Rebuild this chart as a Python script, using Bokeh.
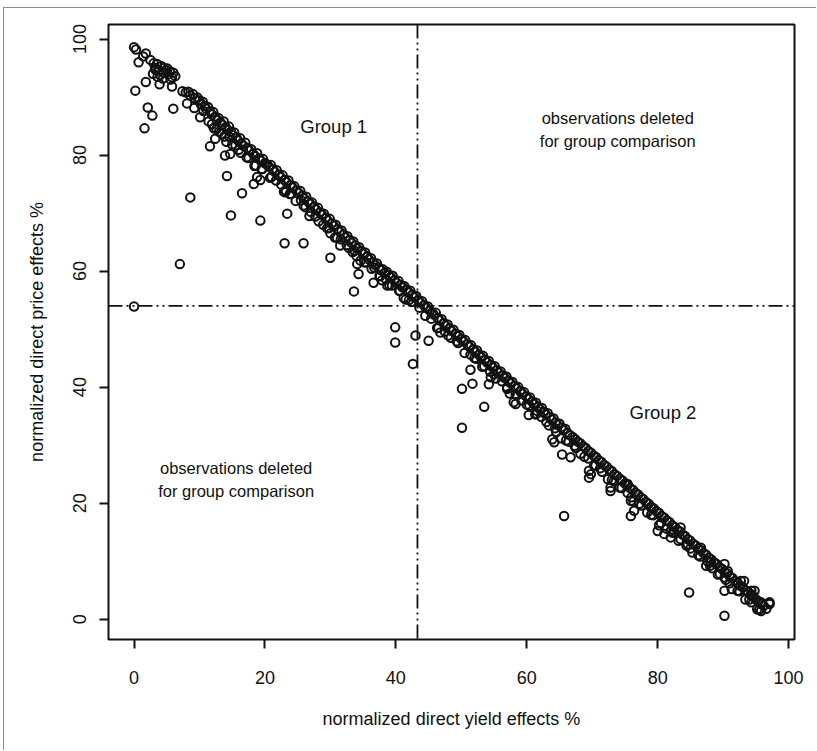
from bokeh.plotting import figure
from bokeh.models import Range1d, FixedTicker, Span, Label, InlineStyleSheet
from bokeh.embed import file_html
from bokeh.resources import INLINE

# ---------------- data ----------------
top_yield = [0.0, 0.3, 1.8, 1.4, 0.7, 2.5, 3.0, 3.5, 3.3, 3.8, 4.2, 4.5, 4.0, 4.9,
             5.2, 5.5, 5.8, 6.0, 6.3, 3.6, 2.9, 4.6, 5.1, 4.4, 5.6, 3.2]
top_price = [98.6, 98.2, 97.5, 97.0, 96.0, 96.4, 95.8, 95.7, 95.0, 94.6, 95.3, 94.2, 93.8, 94.6,
             93.9, 94.4, 93.4, 94.2, 93.6, 93.5, 94.0, 95.0, 94.9, 93.2, 93.0, 94.8]

band1_yield = [7.4, 7.9, 8.3, 8.6, 9.0, 9.3, 9.7, 10.0, 10.2, 10.5, 10.8, 11.0, 11.3, 11.6,
               11.9, 12.1, 12.4, 12.7, 12.9, 13.2, 13.5, 13.7, 14.0, 14.3, 14.5, 14.8, 15.1,
               15.3, 15.6, 15.9, 16.2, 16.4, 16.7, 17.0, 17.3, 17.6, 17.9, 18.2, 18.5, 18.8,
               19.1, 19.4, 19.7, 20.0, 12.6, 13.8, 15.0, 16.0, 17.2, 18.6, 11.9, 13.0, 19.5,
               10.6, 14.6]
band1_price = [91.0, 90.8, 90.9, 90.3, 90.5, 89.8, 89.9, 89.4, 88.8, 89.2, 88.5, 88.0, 88.3, 87.5,
               87.0, 87.4, 86.6, 86.0, 86.4, 85.6, 85.2, 85.8, 84.8, 84.3, 84.9, 84.0, 83.4,
               83.9, 83.0, 82.5, 82.9, 82.0, 81.6, 82.1, 81.2, 80.8, 81.0, 80.2, 79.8, 80.3,
               79.4, 79.0, 79.3, 78.6, 84.5, 83.2, 81.8, 80.9, 79.6, 78.2, 85.3, 84.0, 77.6,
               87.6, 83.1]

band2_yield = [20.3, 20.6, 20.9, 21.2, 21.5, 21.8, 22.1, 22.4, 22.7, 23.0, 23.3, 23.6, 23.9,
               24.2, 24.5, 24.8, 25.1, 25.4, 25.7, 26.0, 26.3, 26.6, 26.9, 27.2, 27.5, 27.8,
               28.1, 28.4, 28.7, 29.0, 29.3, 29.6, 29.9, 30.2, 30.5, 30.8, 31.1, 31.4, 31.7,
               32.0, 32.3, 32.6, 32.9, 33.2, 33.5, 33.8, 34.1, 34.4, 34.7, 35.0, 35.3, 35.6,
               35.9, 36.2, 36.5, 36.8, 37.1, 37.4, 37.7, 38.0, 38.3, 38.6, 38.9, 39.2, 39.5,
               39.8, 40.1, 40.4, 40.7, 41.0, 41.3, 41.6, 41.9, 42.2, 42.5, 42.8, 43.1, 43.4,
               43.7, 44.0, 44.3, 44.6, 44.9, 45.2, 45.5,
               21.0, 22.5, 24.0, 25.5, 27.0, 28.2, 29.5, 31.0, 32.5, 34.0, 35.2, 36.3, 37.5,
               39.0, 40.5, 42.0, 23.2, 26.2, 30.0, 33.4]
band2_price = [78.4, 78.0, 78.3, 77.5, 77.1, 77.4, 76.6, 76.2, 76.5, 75.7, 75.3, 75.6, 74.8,
               74.4, 74.6, 73.9, 73.5, 73.8, 73.0, 72.5, 72.8, 72.0, 71.6, 71.8, 71.1, 70.6,
               70.9, 70.1, 69.7, 69.9, 69.2, 68.7, 69.0, 68.2, 67.8, 68.0, 67.2, 66.8, 67.0,
               66.3, 65.8, 66.0, 65.3, 64.9, 65.1, 64.4, 63.9, 64.1, 63.4, 63.0, 63.2, 62.5,
               62.0, 62.2, 61.5, 61.1, 61.3, 60.6, 60.2, 60.3, 59.7, 59.9, 59.3, 59.0, 59.2,
               58.4, 58.0, 58.3, 57.6, 57.2, 57.4, 56.8, 56.4, 56.6, 55.9, 55.5, 55.7, 55.0,
               54.6, 54.8, 54.1, 53.7, 53.9, 53.2, 52.8,
               76.2, 74.9, 73.3, 72.2, 70.2, 68.6, 67.4, 65.8, 64.5, 62.6, 61.5, 60.4, 59.2,
               57.6, 56.6, 55.0, 73.9, 71.0, 66.5, 63.3]

band3_yield = [45.8, 46.1, 46.4, 46.7, 47.0, 47.3, 47.6, 47.9, 48.2, 48.5, 48.8, 49.1, 49.4,
               49.7, 50.0, 50.3, 50.6, 50.9, 51.2, 51.5, 51.8, 52.1, 52.4, 52.7, 53.0, 53.3,
               53.6, 53.9, 54.2, 54.5, 54.8, 55.1, 55.4, 55.7, 56.0, 56.3, 56.6, 56.9, 57.2,
               57.5, 57.8, 58.1, 58.4, 58.7, 59.0, 59.3, 59.6, 59.9, 60.2, 60.5, 60.8, 61.1,
               61.4, 61.7, 62.0, 62.3, 62.6, 62.9, 63.2, 63.5, 63.8, 64.1, 64.4, 64.7, 65.0,
               65.3, 65.6, 65.9, 66.2, 66.6, 67.0, 67.4, 67.8, 68.2, 68.6, 69.0, 69.4, 69.8,
               70.2, 70.6, 71.0, 71.4, 71.8, 72.2, 72.6, 73.0, 73.4, 73.8, 74.2, 74.6, 75.0,
               75.4, 75.8, 76.2, 76.6, 77.0, 77.4, 77.8, 78.2, 78.6, 79.0, 79.4, 79.8, 80.2,
               80.6, 81.0, 81.4, 81.8, 82.2, 82.6, 83.0, 83.4, 83.8, 84.2, 84.6, 85.0, 85.4,
               85.8, 86.2, 86.6, 87.0, 87.4, 87.8, 88.2, 88.6, 89.0, 89.4, 89.8, 90.2, 90.6,
               91.0, 91.4, 91.8, 92.2, 92.6, 93.0, 93.4, 93.8, 94.2, 94.6, 95.0, 95.4, 95.8,
               96.2, 96.6, 97.0,
               46.5, 48.0, 49.5, 52.0, 53.5, 55.0, 57.0, 58.5, 60.0, 61.5, 63.0, 64.5, 66.0,
               67.5, 68.8, 70.5, 71.5, 73.0, 74.5, 76.0, 77.5, 79.0, 80.5, 82.0, 83.5, 85.0,
               86.5, 88.0, 89.5, 91.0, 92.5, 94.0, 95.5]
band3_price = [52.5, 52.8, 51.9, 51.5, 51.7, 51.0, 50.6, 50.8, 50.1, 49.7, 49.9, 49.2, 48.8,
               49.0, 48.3, 47.9, 48.1, 47.4, 47.0, 47.2, 46.5, 46.1, 46.3, 45.6, 45.2, 45.4,
               44.7, 44.3, 44.5, 43.8, 43.4, 43.6, 42.9, 42.5, 42.7, 42.0, 41.6, 41.8, 41.1,
               40.7, 40.9, 40.2, 39.8, 40.0, 39.3, 38.9, 39.1, 38.4, 38.0, 38.2, 37.5, 37.1,
               37.3, 36.6, 36.2, 36.4, 35.7, 35.3, 35.5, 34.8, 34.4, 34.6, 33.9, 33.5, 33.7,
               33.0, 32.6, 32.8, 32.1, 31.7, 31.4, 31.0, 30.6, 30.3, 29.8, 29.5, 29.0, 28.7,
               28.2, 27.9, 27.4, 27.1, 26.6, 26.3, 25.8, 25.5, 25.0, 24.7, 24.2, 23.9, 23.4,
               23.1, 22.6, 22.3, 21.8, 21.5, 21.0, 20.7, 20.2, 19.9, 19.4, 19.1, 18.6, 18.3,
               17.8, 17.5, 17.0, 16.7, 16.2, 15.9, 15.4, 15.1, 14.6, 14.3, 13.8, 13.5, 13.0,
               12.7, 12.2, 11.9, 11.4, 11.1, 10.6, 10.3, 9.8, 9.5, 9.0, 8.7, 8.2, 7.9,
               7.4, 7.1, 6.6, 6.3, 5.8, 5.5, 5.0, 4.7, 4.2, 3.9, 3.4, 3.1, 2.6,
               2.3, 1.8, 2.8,
               50.2, 48.9, 47.6, 45.0, 43.6, 42.2, 40.0, 38.6, 37.0, 35.4, 34.0, 32.2, 30.8,
               29.5, 28.0, 26.5, 25.4, 24.0, 22.6, 21.0, 19.6, 18.0, 16.6, 15.2, 13.8, 12.2,
               10.8, 9.2, 7.8, 6.2, 4.8, 3.4, 1.6]

lower_yield = [8.1, 9.2, 10.1, 11.4, 12.2, 13.4, 14.1, 15.5, 16.3, 17.5, 18.4, 19.6, 20.8,
               21.7, 22.9, 23.8, 24.7, 25.9, 26.8, 27.7, 28.9, 29.8, 30.7, 31.6, 32.8, 33.7,
               34.6, 35.5, 36.7, 37.6, 38.5, 39.4, 40.6, 41.5, 42.4, 43.6, 44.5, 45.4, 46.3,
               47.5, 48.4, 49.3, 50.5, 51.4, 52.3, 53.2, 54.4, 55.3, 56.2, 57.4, 58.3, 59.2,
               60.4, 61.3, 62.2, 63.4, 64.3, 65.2, 66.4, 67.3, 68.2, 69.4, 70.3, 71.2, 72.4,
               73.3, 74.2, 75.4, 76.3, 77.2, 78.4, 79.3, 80.2, 81.4, 82.3, 83.2, 84.4, 85.3,
               86.2, 87.4, 88.3, 89.2, 90.4, 91.3, 92.2, 93.4, 94.3, 95.2]
lower_price = [88.9, 88.1, 86.5, 85.8, 84.6, 83.7, 82.3, 81.7, 80.4, 79.5, 78.1, 77.6, 76.1,
               75.6, 73.7, 73.3, 72.1, 71.3, 69.5, 69.4, 68.0, 67.4, 65.8, 65.5, 64.0, 63.5,
               61.8, 61.5, 60.6, 59.1, 58.6, 57.5, 56.6, 55.1, 54.7, 53.7, 52.3, 51.8, 50.2,
               49.6, 48.5, 47.9, 45.9, 45.6, 44.9, 43.5, 42.7, 41.5, 41.0, 38.9, 38.8, 37.7,
               36.8, 35.3, 34.9, 33.4, 32.9, 31.2, 30.6, 29.9, 28.5, 27.7, 26.5, 26.0, 24.1,
               23.8, 22.7, 21.8, 20.3, 19.9, 18.4, 17.9, 16.2, 15.6, 14.9, 13.5, 12.7, 11.5,
               11.0, 9.2, 8.8, 7.7, 6.8, 5.2, 4.9, 3.4, 2.9, 1.7]

off_yield = [1.8, 3.9, 5.8, 0.2, 6.0, 2.1, 2.8, 1.6, 11.6, 12.4, 13.9, 14.7, 14.2, 18.3,
             19.3, 18.8, 16.5, 8.6, 14.8, 19.3, 23.1, 23.4, 23.0, 25.9, 30.0, 31.5, 7.0,
             34.1, 34.3, 33.6, 36.6, 37.9, 38.7, 41.2, 0.0, 39.9, 39.9, 43.0, 45.0, 42.6,
             46.8, 50.1, 51.7, 53.5, 50.1, 51.4, 54.2, 54.5, 57.0, 58.3, 58.0, 60.3, 61.6,
             63.9, 64.2, 65.4, 66.7, 69.5, 69.5, 69.8, 65.7, 72.8, 72.8, 75.4, 75.9, 76.4,
             75.9, 79.0, 80.0, 81.0, 82.0, 83.5, 84.6, 86.6, 87.6, 88.1, 90.2, 90.2, 90.7,
             92.7, 93.2, 94.3, 94.3, 94.8, 95.8, 95.8, 97.1, 97.1, 84.8, 90.2, 90.2]
off_price = [92.6, 92.2, 91.8, 91.1, 88.0, 88.2, 86.8, 84.6, 81.5, 82.8, 79.9, 80.2, 76.4, 75.0,
             75.7, 76.2, 73.4, 72.7, 69.6, 68.7, 73.6, 69.9, 64.8, 64.8, 62.3, 64.4, 61.2,
             61.2, 59.5, 56.5, 58.0, 58.4, 57.5, 55.4, 53.9, 50.3, 47.7, 48.9, 48.0, 44.0,
             49.4, 39.7, 40.6, 36.6, 33.0, 43.0, 40.5, 41.7, 39.7, 37.1, 37.4, 35.2, 35.9,
             31.0, 30.5, 28.4, 27.9, 25.6, 24.4, 25.0, 17.8, 22.7, 22.1, 23.3, 20.4, 18.7,
             17.8, 19.2, 15.2, 14.7, 14.1, 15.8, 12.9, 12.3, 10.0, 9.8, 9.5, 7.2, 8.3,
             6.6, 6.6, 4.9, 4.3, 4.9, 2.9, 1.4, 2.6, 2.9, 4.6, 4.9, 0.6]

x_ticks = [0, 20, 40, 60, 80, 100]
y_ticks = [0, 20, 40, 60, 80, 100]
yield_cut = 43.3
price_cut = 54.0

yield_pct = top_yield + band1_yield + band2_yield + band3_yield + lower_yield + off_yield
price_pct = top_price + band1_price + band2_price + band3_price + lower_price + off_price

FONT = "Liberation Sans"
INK = "#111111"

frame_css = InlineStyleSheet(css="""
:host { position: relative; }
:host::after {
  content: ""; position: absolute; left: 3px; top: 7px; width: 813px; height: 743px;
  border-top: 1.5px solid #8a8a8a; border-left: 1.5px solid #8a8a8a;
  pointer-events: none; z-index: 10; box-sizing: border-box;
}
""")

p = figure(width=816, height=750, output_backend="svg", toolbar_location=None,
           x_range=Range1d(-3.9, 100.9), y_range=Range1d(-3.5, 102.5),
           min_border_left=108, min_border_right=22, min_border_top=24, min_border_bottom=111,
           background_fill_color="white", border_fill_color="white",
           stylesheets=[frame_css])

p.grid.visible = False
p.outline_line_color = INK
p.outline_line_width = 2

for ax, ticks in ((p.xaxis[0], x_ticks), (p.yaxis[0], y_ticks)):
    ax.ticker = FixedTicker(ticks=ticks)
    ax.axis_line_color = None
    ax.major_tick_line_color = INK
    ax.major_tick_line_width = 2
    ax.major_tick_out = 9
    ax.major_tick_in = 0
    ax.minor_tick_line_color = None
    ax.major_label_text_font = FONT
    ax.major_label_text_font_size = "18px"
    ax.major_label_text_color = INK
    ax.axis_label_text_font = FONT
    ax.axis_label_text_font_size = "18px"
    ax.axis_label_text_font_style = "normal"
    ax.axis_label_text_color = INK

p.xaxis.axis_label = "normalized direct yield effects %"
p.yaxis.axis_label = "normalized direct price effects %"
p.xaxis.major_label_standoff = 22
p.xaxis.axis_label_standoff = 22
p.yaxis.major_label_standoff = 13
p.yaxis.axis_label_standoff = 24
p.yaxis.major_label_orientation = "vertical"

dash = "14 4 2 4 2 4"
p.add_layout(Span(location=yield_cut, dimension="height", line_color=INK,
                  line_width=1.8, line_dash=dash))
p.add_layout(Span(location=price_cut, dimension="width", line_color=INK,
                  line_width=1.8, line_dash=dash))

p.scatter(yield_pct, price_pct, marker="circle", size=8.5, fill_color=None,
          line_color=INK, line_width=2.0)

labels = [
    ("Group 1", 30.5, 85.0, "18.5px"),
    ("Group 2", 80.8, 35.6, "18.5px"),
    ("observations deleted", 73.9, 86.3, "16.5px"),
    ("for group comparison", 73.9, 82.5, "16.5px"),
    ("observations deleted", 15.6, 26.1, "16.5px"),
    ("for group comparison", 15.6, 22.1, "16.5px"),
]
for txt, lx, ly, fs in labels:
    p.add_layout(Label(x=lx, y=ly, text=txt, text_align="center", text_baseline="middle",
                       text_font=FONT, text_font_size=fs, text_color=INK))

open("out.html", "w").write(file_html(p, INLINE))
